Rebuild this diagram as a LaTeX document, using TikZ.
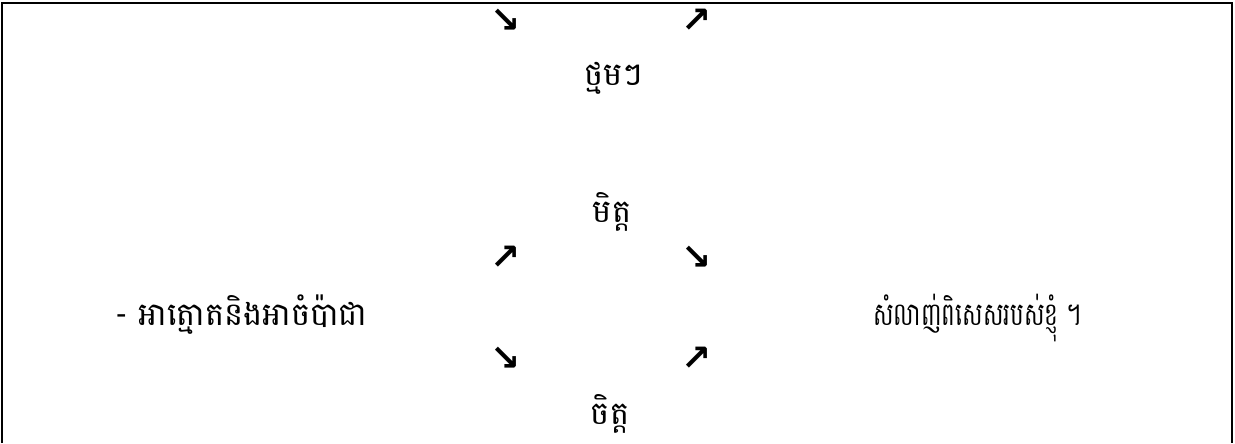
\documentclass[tikz,border=0pt]{standalone}
\usepackage{fontspec}
\newfontfamily\khmerfont[Script=Khmer]{Battambang}
\newfontfamily\symfont{DejaVu Sans}
\usepackage{tikz}

\begin{document}
\begin{tikzpicture}[x=0.75pt, y=-0.75pt,
  kh/.style={inner sep=0pt, anchor=base, font=\khmerfont\fontsize{24}{26}\selectfont},
  ar/.style={inner sep=0pt, font=\symfont\bfseries\fontsize{27}{29}\selectfont}]
\useasboundingbox (0,0) rectangle (1235,443);
\draw[line width=1.6pt] (2,443) -- (2,3) -- (1232,3) -- (1232,443);
% top row
\node[ar] (a1) at (506,21) {↘};
\node[ar] (a2) at (697,21) {↗};
\node[kh] (w1) at (614,85) {ថ្មមៗ};
% middle
\node[kh] (w2) at (612,222) {មិត្ត};
\node[ar] (a3) at (506,258) {↗};
\node[ar] (a4) at (697,258) {↘};
\node[kh, anchor=base west] (lt) at (115,325) {- អាត្មោតនិងអាចំប៉ាជា};
\node[kh, anchor=base west, xscale=0.72, transform shape] (rt) at (873,325) {សំលាញ់ពិសេសរបស់ខ្ញុំ ។};
\node[ar] (a5) at (506,359) {↘};
\node[ar] (a6) at (697,359) {↗};
% bottom
\node[kh] (w3) at (610,424) {ចិត្ត};
\end{tikzpicture}
\end{document}
